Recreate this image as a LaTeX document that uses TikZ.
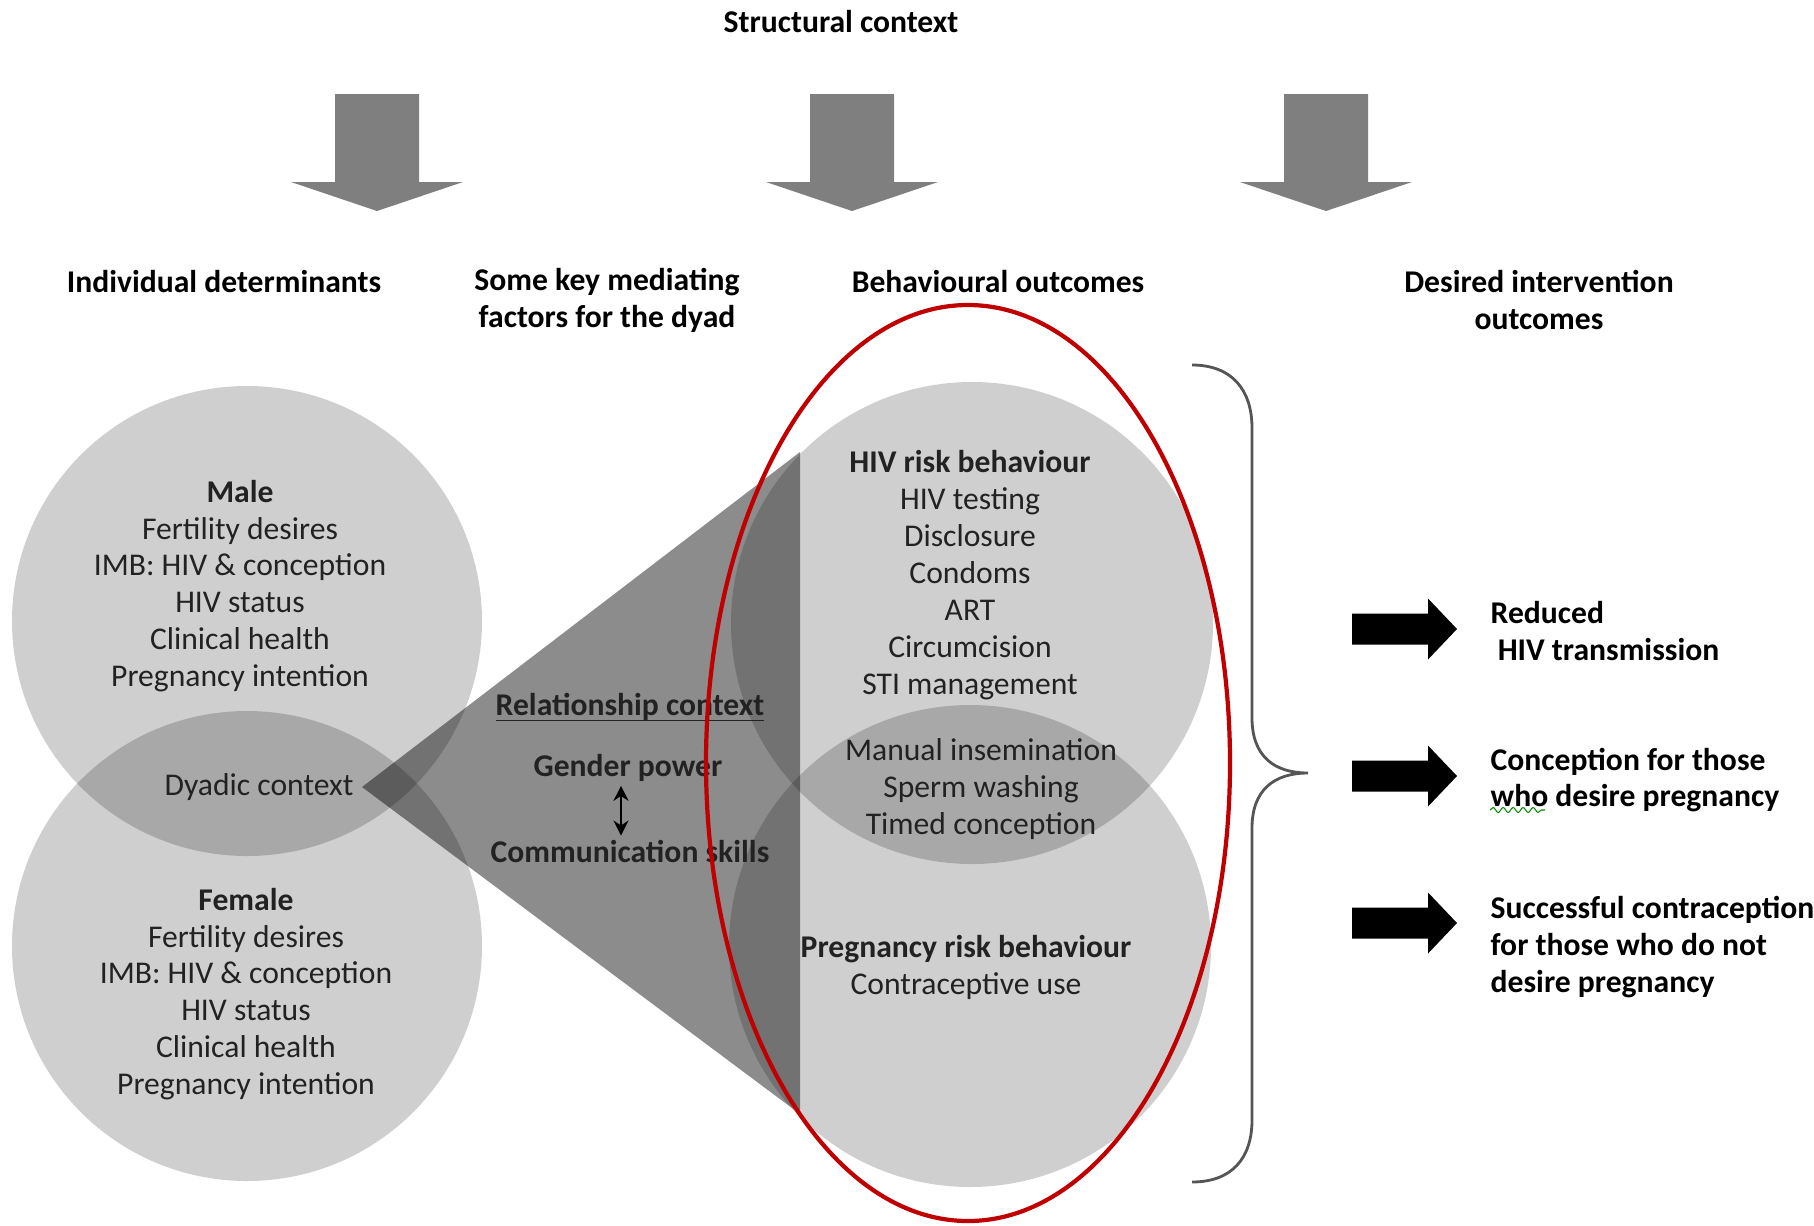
\documentclass[tikz,border=0pt]{standalone}
\usepackage{fontspec}
\setmainfont{Carlito}
\usepackage{xcolor}
\usepackage{tikz}
\usetikzlibrary{
  arrows.meta,
  positioning,
  calc,
  decorations.pathmorphing
}
\definecolor{dyGray}{HTML}{7F7F7F}
\definecolor{dyRed}{HTML}{C00000}
\definecolor{dyText}{HTML}{222222}
\definecolor{dyBrace}{HTML}{555555}
\tikzset{
  heading/.style={font=\fontsize{9}{10.5}\selectfont\bfseries, align=center, text=black, inner sep=1pt},
  circtext/.style={font=\fontsize{9}{10.5}\selectfont, align=center, text=dyText, inner sep=1pt},
  boldtext/.style={circtext, font=\fontsize{9}{10.5}\selectfont\bfseries},
  outtext/.style={heading, align=left, anchor=west, inner sep=0pt},
  partner/.style={fill=black, fill opacity=0.19},
  wedgefill/.style={fill=black, fill opacity=0.45},
  ring/.style={draw=dyRed, line width=1.2pt},
  bracket/.style={draw=dyBrace, line width=0.8pt},
  twoway/.style={{Stealth[length=1.5mm, width=1.5mm]}-{Stealth[length=1.5mm, width=1.5mm]}, line width=0.7pt, black},
  squiggle/.style={draw=green!55!black, line width=0.3pt, decorate,
    decoration={snake, amplitude=0.25mm, segment length=1mm}},
  sdown/.pic={
    \fill[dyGray] (-42,0) -- (42,0) -- (42,88) -- (86,88) -- (0,117)
      -- (-86,88) -- (-42,88) -- cycle;
  },
  outarrow/.pic={
    \fill[black] (0,-15.5) -- (76,-15.5) -- (76,-30.5) -- (105,0)
      -- (76,30.5) -- (76,15.5) -- (0,15.5) -- cycle;
  }
}

\begin{document}
\begin{tikzpicture}[x=0.1mm, y=-0.1mm]
  \useasboundingbox (0,0) rectangle (1814,1225);

  % structural context
  \node[heading] (struct) at (841,22) {Structural context};
  \foreach \x in {377,852,1326}
    \pic at (\x,94) {sdown};

  % column headings
  \node[heading] (indiv) at (224,282) {Individual determinants};
  \node[heading] (medi) at (607,300) {Some key mediating\\factors for the dyad};
  \node[heading] (behav) at (998,282) {Behavioural outcomes};
  \node[heading] (desired) at (1539,300) {Desired intervention\\outcomes};

  % partners and dyad
  \fill[partner] (247,621) circle (235);
  \fill[partner] (247,946) circle (235);
  \fill[partner] (972,623) circle (241);
  \fill[partner] (970,946) circle (241);

  \coordinate (apex) at (362,787);
  \fill[wedgefill] (apex) -- (800,452) -- (800,1114) -- cycle;

  \node[circtext] (male) at (240,586) {\textbf{Male}\\Fertility desires\\IMB: HIV \& conception\\HIV status\\Clinical health\\Pregnancy intention};
  \node[circtext] (female) at (246,994) {\textbf{Female}\\Fertility desires\\IMB: HIV \& conception\\HIV status\\Clinical health\\Pregnancy intention};
  \node[circtext] (dyad) at (259,787) {Dyadic context};

  % relationship context
  \node[boldtext] (rel) at (630,719) {\underline{\smash{Relationship context}}};
  \node[boldtext] (gender) at (628,768) {Gender power};
  \node[boldtext] (comm) at (630,851) {Communication skills};
  \draw[twoway] ($(gender.south)+(-7,0)$) -- ($(gender.south |- comm.north)+(-7,0)$);

  % behavioural outcomes
  \node[circtext] (hiv) at (970,575) {\textbf{HIV risk behaviour}\\HIV testing\\Disclosure\\Condoms\\ART\\Circumcision\\STI management};
  \node[circtext] (manual) at (981,789) {Manual insemination\\Sperm washing\\Timed conception};
  \node[circtext] (preg) at (966,967) {\textbf{Pregnancy risk behaviour}\\Contraceptive use};

  \draw[ring] (968,763) ellipse (262 and 458);

  % brace and intervention outcomes
  \draw[bracket] (1192,365) .. controls (1232,365) and (1252,390) .. (1252,428)
    -- (1252,718) .. controls (1252,756) and (1274,773) .. (1308,773)
    .. controls (1274,773) and (1252,790) .. (1252,828)
    -- (1252,1120) .. controls (1252,1158) and (1232,1182) .. (1192,1182);

  \foreach \y in {629,776,923}
    \pic at (1352,\y) {outarrow};

  \node[outtext] (hivout) at (1490,631) {Reduced\\\hspace*{2pt}HIV transmission};
  \node[outtext] (concout) at (1490,780) {Conception for those\\who desire pregnancy};
  \node[outtext] (controut) at (1490,947) {Successful contraception\\for those who do not\\desire pregnancy};
  \draw[squiggle] (1490,810) -- (1545,810);
\end{tikzpicture}
\end{document}
